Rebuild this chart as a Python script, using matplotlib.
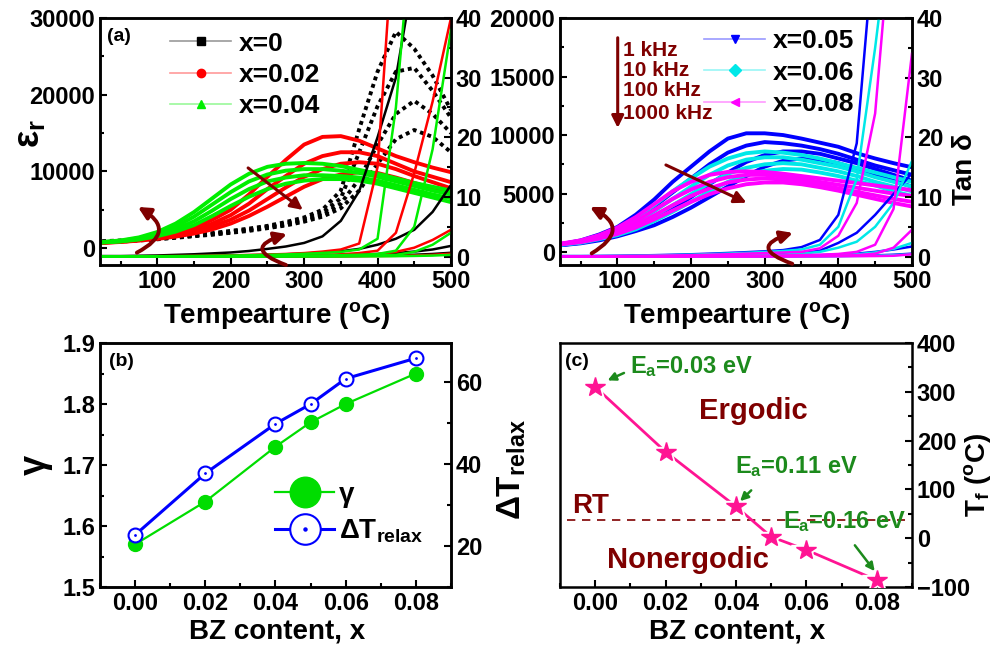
import matplotlib
matplotlib.use('Agg')
import matplotlib.pyplot as plt
from matplotlib.lines import Line2D
from matplotlib.legend_handler import HandlerTuple
from matplotlib.ticker import MultipleLocator

plt.rcParams['font.family'] = ['Liberation Sans', 'DejaVu Sans']
plt.rcParams['font.weight'] = 'bold'
plt.rcParams['mathtext.fontset'] = 'custom'
plt.rcParams['mathtext.rm'] = 'Liberation Sans:bold'
plt.rcParams['mathtext.it'] = 'Liberation Sans:bold'
plt.rcParams['mathtext.bf'] = 'Liberation Sans:bold'
plt.rcParams['axes.linewidth'] = 1.8

# temperature grid (degC)
T = [25, 50, 75, 100, 125, 150, 175, 200, 225, 250,
     275, 300, 325, 350, 375, 400, 425, 450, 475, 500]

# permittivity, rows = 1 kHz, 10 kHz, 100 kHz, 1000 kHz
eps_x000 = [
    [900, 1000, 1150, 1300, 1500, 1700, 1950, 2250, 2550, 2900, 3400, 4000, 5000, 7500, 15500, 23000, 28200, 26000, 22500, 18000],
    [850, 950, 1100, 1250, 1450, 1650, 1900, 2150, 2450, 2800, 3200, 3800, 4600, 6500, 12500, 18500, 23000, 23500, 20500, 17000],
    [800, 900, 1050, 1200, 1400, 1600, 1800, 2050, 2350, 2700, 3050, 3600, 4300, 5800, 9000, 13500, 17500, 19200, 17500, 15000],
    [750, 850, 1000, 1150, 1350, 1550, 1750, 2000, 2250, 2600, 2950, 3450, 4100, 5200, 7500, 11000, 14200, 15400, 14500, 12500],
]
eps_x002 = [
    [750, 900, 1150, 1500, 2000, 2700, 3700, 5000, 7000, 9300, 11500, 13500, 14500, 14600, 14000, 13000, 12000, 11200, 10500, 9900],
    [720, 860, 1080, 1400, 1800, 2400, 3200, 4300, 5800, 7700, 9400, 11000, 12000, 12500, 12500, 12000, 11000, 10000, 9300, 8600],
    [700, 830, 1030, 1300, 1650, 2150, 2850, 3700, 4900, 6400, 7900, 9300, 10300, 11000, 11200, 11000, 10300, 9400, 8600, 7800],
    [680, 800, 980, 1200, 1500, 1900, 2450, 3200, 4200, 5400, 6700, 8000, 9000, 9600, 9900, 9800, 9200, 8500, 7800, 7200],
]
eps_x004 = [
    [800, 1000, 1400, 2100, 3200, 4700, 6500, 8300, 9700, 10600, 11000, 11100, 11000, 10700, 10200, 9700, 9100, 8500, 8000, 7500],
    [780, 950, 1300, 1900, 2800, 4100, 5700, 7300, 8700, 9600, 10100, 10300, 10300, 10100, 9800, 9300, 8700, 8100, 7500, 7000],
    [760, 900, 1200, 1700, 2450, 3500, 4900, 6400, 7700, 8700, 9200, 9500, 9500, 9400, 9200, 8800, 8200, 7600, 7000, 6500],
    [740, 870, 1120, 1550, 2150, 3000, 4200, 5500, 6700, 7700, 8400, 8800, 9000, 9000, 8800, 8400, 7800, 7200, 6600, 6000],
]
eps_x005 = [
    [700, 1000, 1500, 2150, 3200, 4500, 6000, 7300, 8600, 9700, 10150, 10150, 10000, 9700, 9350, 9000, 8450, 8000, 7600, 7250],
    [680, 950, 1400, 1950, 2800, 3900, 5100, 6300, 7500, 8500, 9100, 9400, 9300, 9100, 8800, 8400, 7900, 7400, 7000, 6600],
    [620, 800, 1100, 1500, 2100, 2800, 3700, 4700, 5800, 6800, 7700, 8300, 8600, 8600, 8400, 8000, 7600, 7100, 6600, 6100],
    [600, 750, 1000, 1350, 1800, 2300, 3000, 3800, 4700, 5600, 6500, 7300, 7800, 8000, 7900, 7600, 7100, 6600, 6100, 5600],
]
eps_x006 = [
    [700, 950, 1400, 2000, 2900, 4000, 5200, 6300, 7300, 8000, 8450, 8600, 8500, 8300, 8000, 7600, 7200, 6800, 6400, 6000],
    [680, 900, 1300, 1800, 2550, 3500, 4550, 5600, 6600, 7400, 7900, 8100, 8100, 7900, 7600, 7300, 6900, 6400, 6000, 5600],
    [660, 850, 1200, 1600, 2250, 3050, 4000, 4950, 5900, 6700, 7200, 7500, 7600, 7500, 7200, 6900, 6500, 6000, 5600, 5200],
    [640, 800, 1100, 1450, 1950, 2650, 3450, 4300, 5200, 6000, 6600, 6950, 7100, 7050, 6800, 6500, 6100, 5700, 5200, 4800],
]
eps_x008 = [
    [750, 1000, 1450, 2100, 3000, 4100, 5200, 6000, 6600, 6850, 6900, 6850, 6700, 6500, 6300, 6100, 5900, 5700, 5500, 5300],
    [720, 950, 1350, 1900, 2650, 3600, 4550, 5350, 6000, 6400, 6600, 6600, 6450, 6250, 6000, 5750, 5500, 5250, 5000, 4800],
    [700, 900, 1250, 1700, 2350, 3150, 4000, 4800, 5450, 5950, 6200, 6300, 6200, 6000, 5750, 5450, 5150, 4850, 4550, 4300],
    [680, 850, 1150, 1550, 2100, 2800, 3550, 4300, 4950, 5450, 5800, 5950, 5950, 5800, 5550, 5250, 4900, 4550, 4200, 3900],
]

# loss tangent, rows = 1 kHz, 10 kHz, 100 kHz, 1000 kHz
tan_x000 = [
    [0.10, 0.10, 0.15, 0.20, 0.30, 0.40, 0.55, 0.70, 0.95, 1.30, 1.70, 2.30, 3.40, 6.0, 11.0, 20.0, 30.0, 48.0, 60, 60],
    [0.05, 0.05, 0.05, 0.05, 0.10, 0.10, 0.15, 0.20, 0.25, 0.30, 0.40, 0.50, 0.70, 0.90, 1.30, 2.00, 3.00, 4.50, 7.50, 12.0],
    [0.02, 0.02, 0.02, 0.02, 0.03, 0.04, 0.05, 0.06, 0.08, 0.10, 0.13, 0.16, 0.20, 0.26, 0.34, 0.45, 0.60, 0.85, 1.20, 1.80],
    [0.01, 0.01, 0.01, 0.01, 0.01, 0.02, 0.02, 0.03, 0.03, 0.04, 0.05, 0.06, 0.08, 0.10, 0.13, 0.17, 0.23, 0.32, 0.45, 0.65],
]
tan_x002 = [
    [0.05, 0.05, 0.06, 0.08, 0.10, 0.13, 0.17, 0.22, 0.28, 0.35, 0.45, 0.60, 0.85, 1.20, 2.20, 15.0, 60, 60, 60, 60],
    [0.03, 0.03, 0.03, 0.04, 0.05, 0.06, 0.07, 0.09, 0.11, 0.14, 0.18, 0.23, 0.30, 0.40, 0.60, 1.00, 4.00, 14.0, 26.0, 40.0],
    [0.02, 0.02, 0.02, 0.02, 0.03, 0.03, 0.04, 0.05, 0.06, 0.07, 0.09, 0.11, 0.14, 0.18, 0.25, 0.40, 0.80, 1.50, 2.80, 4.50],
    [0.01, 0.01, 0.01, 0.01, 0.01, 0.01, 0.02, 0.02, 0.02, 0.03, 0.03, 0.04, 0.05, 0.06, 0.08, 0.10, 0.14, 0.20, 0.30, 0.50],
]
tan_x004 = [
    [0.05, 0.05, 0.06, 0.07, 0.09, 0.11, 0.14, 0.18, 0.23, 0.30, 0.38, 0.48, 0.62, 0.80, 1.20, 3.00, 25.0, 60, 60, 60],
    [0.03, 0.03, 0.03, 0.04, 0.04, 0.05, 0.06, 0.07, 0.09, 0.11, 0.13, 0.16, 0.20, 0.25, 0.32, 0.45, 1.00, 5.00, 18.0, 38.0],
    [0.02, 0.02, 0.02, 0.02, 0.02, 0.03, 0.03, 0.04, 0.04, 0.05, 0.06, 0.08, 0.10, 0.12, 0.15, 0.20, 0.30, 0.80, 2.00, 4.00],
    [0.01, 0.01, 0.01, 0.01, 0.01, 0.01, 0.01, 0.02, 0.02, 0.02, 0.02, 0.03, 0.03, 0.04, 0.05, 0.06, 0.08, 0.12, 0.18, 0.30],
]
tan_x005 = [
    [0.10, 0.10, 0.12, 0.15, 0.20, 0.25, 0.32, 0.40, 0.50, 0.62, 0.75, 0.90, 1.10, 1.60, 2.80, 7.00, 19.0, 55.0, 60, 60],
    [0.05, 0.05, 0.06, 0.07, 0.08, 0.10, 0.12, 0.15, 0.18, 0.22, 0.28, 0.35, 0.45, 0.60, 1.00, 2.30, 4.00, 7.00, 10.5, 14.0],
    [0.03, 0.03, 0.03, 0.03, 0.04, 0.04, 0.05, 0.06, 0.07, 0.08, 0.10, 0.12, 0.15, 0.20, 0.26, 0.35, 0.50, 0.80, 1.20, 1.70],
    [0.01, 0.01, 0.01, 0.01, 0.01, 0.02, 0.02, 0.02, 0.03, 0.03, 0.04, 0.05, 0.06, 0.07, 0.09, 0.12, 0.16, 0.22, 0.32, 0.50],
]
tan_x006 = [
    [0.08, 0.08, 0.10, 0.12, 0.16, 0.20, 0.26, 0.33, 0.42, 0.52, 0.64, 0.78, 0.95, 1.20, 2.00, 5.00, 13.0, 35.0, 60, 60],
    [0.04, 0.04, 0.05, 0.06, 0.07, 0.08, 0.10, 0.12, 0.15, 0.18, 0.22, 0.28, 0.35, 0.50, 0.80, 1.50, 2.50, 5.00, 9.00, 16.0],
    [0.02, 0.02, 0.02, 0.03, 0.03, 0.04, 0.04, 0.05, 0.06, 0.07, 0.08, 0.10, 0.13, 0.16, 0.21, 0.28, 0.40, 0.70, 1.30, 2.30],
    [0.01, 0.01, 0.01, 0.01, 0.01, 0.01, 0.02, 0.02, 0.02, 0.03, 0.03, 0.04, 0.05, 0.06, 0.07, 0.09, 0.12, 0.17, 0.25, 0.40],
]
tan_x008 = [
    [0.06, 0.06, 0.08, 0.10, 0.13, 0.16, 0.20, 0.25, 0.32, 0.40, 0.50, 0.60, 0.70, 0.80, 1.40, 3.50, 9.00, 24.0, 60, 60],
    [0.03, 0.03, 0.03, 0.04, 0.05, 0.06, 0.07, 0.08, 0.10, 0.12, 0.14, 0.17, 0.20, 0.25, 0.32, 0.45, 0.80, 2.00, 8.00, 34.0],
    [0.02, 0.02, 0.02, 0.02, 0.02, 0.03, 0.03, 0.04, 0.04, 0.05, 0.06, 0.07, 0.08, 0.10, 0.13, 0.17, 0.25, 0.50, 1.50, 4.50],
    [0.01, 0.01, 0.01, 0.01, 0.01, 0.01, 0.01, 0.02, 0.02, 0.02, 0.02, 0.03, 0.03, 0.04, 0.05, 0.06, 0.08, 0.10, 0.15, 0.40],
]

# panel (b) and (c)
bz = [0.00, 0.02, 0.04, 0.05, 0.06, 0.08]
gamma = [1.57, 1.64, 1.73, 1.77, 1.80, 1.85]
dT_relax = [22.7, 37.7, 49.8, 54.6, 60.8, 65.8]
T_f = [310, 177, 65, 3, -24, -86]
RT = 37

freq_labels = ['1 kHz', '10 kHz', '100 kHz', '1000 kHz']
darkred = '#7f0000'
dgreen = '#1c8a1c'


def style(ax, left=True, right=False):
    ax.tick_params(which='both', direction='in', top=False, left=left, right=right,
                   width=1.5, labelsize=17)
    ax.tick_params(which='major', length=5)
    ax.tick_params(which='minor', length=3)


def temp_panel(rect, groups, ylim_eps, eps_major, names, markers, legend_anchor):
    ax = fig.add_axes(rect)
    ax2 = ax.twinx()
    for eps, tan, col, ls in groups:
        for row in eps:
            ax.plot(T, row, color=col, lw=2.8, ls=ls)
        for row in tan:
            ax2.plot(T, row, color=col, lw=1.8)
    ax.set_xlim(22, 500)
    ax.set_ylim(*ylim_eps)
    ax2.set_ylim(-1.4, 40)
    ax.xaxis.set_major_locator(MultipleLocator(100))
    ax.xaxis.set_minor_locator(MultipleLocator(50))
    ax.yaxis.set_major_locator(MultipleLocator(eps_major))
    ax.yaxis.set_minor_locator(MultipleLocator(eps_major / 2))
    ax2.yaxis.set_major_locator(MultipleLocator(10))
    ax2.yaxis.set_minor_locator(MultipleLocator(5))
    style(ax)
    style(ax2, left=False, right=True)
    handles = []
    for (eps, tan, col, ls), m in zip(groups, markers):
        rgb = matplotlib.colors.to_rgb(col)
        handles.append(Line2D([], [], color=rgb + (0.4,), lw=1.2, marker=m, ms=6,
                              mfc=col, mec=col))
    ax2.legend(handles, names, loc='upper left', bbox_to_anchor=legend_anchor,
               frameon=False, fontsize=19, handlelength=2.3, handletextpad=0.3,
               labelspacing=0.28, borderaxespad=0, borderpad=0)
    return ax, ax2


def curved(ax, tail, head, rad):
    ax.annotate('', xy=head, xytext=tail, xycoords='axes fraction',
                arrowprops=dict(arrowstyle='-|>', color=darkred, lw=2.8,
                                mutation_scale=18, shrinkA=0, shrinkB=0,
                                connectionstyle='arc3,rad=%s' % rad),
                zorder=10)


def straight(ax, tail, head):
    ax.annotate('', xy=head, xytext=tail, xycoords='axes fraction',
                arrowprops=dict(arrowstyle='-|>', color=darkred, lw=2.2,
                                mutation_scale=18, shrinkA=0, shrinkB=0))


fig = plt.figure(figsize=(9.92, 6.5), dpi=100)

# panel (a)
axa, axa2 = temp_panel([0.1008, 0.5923, 0.3538, 0.38],
                       [(eps_x000, tan_x000, 'black', (0, (1, 1))),
                        (eps_x002, tan_x002, '#ff0000', '-'),
                        (eps_x004, tan_x004, '#00ee00', '-')],
                       (-2200, 30000), 10000,
                       ['x=0', 'x=0.02', 'x=0.04'], ['s', 'o', '^'], (0.2, 0.945))
axa.text(0.02, 0.925, '(a)', transform=axa.transAxes, fontsize=14, va='center')
curved(axa2, (0.105, 0.05), (0.108, 0.235), 0.9)
curved(axa2, (0.53, 0.0), (0.533, 0.125), -1.5)
straight(axa2, (0.422, 0.393), (0.578, 0.223))

# panel (a')
axr, axr2 = temp_panel([0.5645, 0.5923, 0.3548, 0.38],
                       [(eps_x005, tan_x005, '#0000ff', '-'),
                        (eps_x006, tan_x006, '#00e8e8', '-'),
                        (eps_x008, tan_x008, '#ff00ff', '-')],
                       (-1100, 20000), 5000,
                       ['x=0.05', 'x=0.06', 'x=0.08'], ['v', 'D', '<'], (0.41, 0.955))
curved(axr2, (0.09, 0.047), (0.085, 0.235), 0.9)
curved(axr2, (0.66, 0.005), (0.662, 0.13), -1.5)
straight(axr2, (0.301, 0.405), (0.53, 0.252))
straight(axr2, (0.164, 0.92), (0.164, 0.555))
for lab, fy in zip(freq_labels, [0.87, 0.789, 0.706, 0.615]):
    axr.text(0.178, fy, lab, transform=axr.transAxes, color=darkred, fontsize=15,
             va='center', ha='left')

# panel (b)
axb = fig.add_axes([0.1008, 0.0969, 0.3538, 0.3754])
axb2 = axb.twinx()
lg, = axb.plot(bz, gamma, color='#00dd00', lw=1.6, marker='o', ms=10, zorder=3)
lt, = axb2.plot(bz, dT_relax, color='#0000ff', lw=2.2, marker='o', ms=10,
                mfc='white', mec='#0000ff', mew=1.5)
ld, = axb2.plot(bz, dT_relax, ls='none', marker='.', ms=2, color='#0000ff')
axb.set_xlim(-0.01, 0.09)
axb.set_ylim(1.5, 1.9)
axb2.set_ylim(10, 69.5)
axb.xaxis.set_major_locator(MultipleLocator(0.02))
axb.xaxis.set_minor_locator(MultipleLocator(0.01))
axb.yaxis.set_major_locator(MultipleLocator(0.1))
axb.yaxis.set_minor_locator(MultipleLocator(0.05))
axb2.yaxis.set_major_locator(MultipleLocator(20))
axb2.yaxis.set_minor_locator(MultipleLocator(10))
axb.xaxis.set_major_formatter(matplotlib.ticker.FormatStrFormatter('%.2f'))
axb.yaxis.set_major_formatter(matplotlib.ticker.FormatStrFormatter('%.1f'))
style(axb)
style(axb2, left=False, right=True)
axb.text(0.025, 0.926, '(b)', transform=axb.transAxes, fontsize=14, va='center')
axb2.legend([lg, (lt, ld)], ['γ', 'ΔT$_\\mathregular{relax}$'],
            handler_map={tuple: HandlerTuple(ndivide=1)},
            loc='center left', bbox_to_anchor=(0.5, 0.3), frameon=False,
            fontsize=20, markerscale=2.2, handlelength=2.1, handletextpad=0.2,
            labelspacing=0.35, borderaxespad=0, borderpad=0)

# panel (c)
axc = fig.add_axes([0.5645, 0.0969, 0.3548, 0.3754])
axc.axhline(RT, xmin=0.02, xmax=0.98, color=darkred, lw=1.2, ls=(0, (5, 4)))
axc.plot(bz, T_f, color='#ff1493', lw=2, zorder=2)
axc.plot(bz, T_f, ls='none', marker='*', ms=22, color='white', zorder=3)
axc.plot(bz, T_f, ls='none', marker='*', ms=15, color='#ff1493', zorder=4)
axc.set_xlim(-0.01, 0.09)
axc.set_ylim(-100, 400)
axc.yaxis.tick_right()
axc.xaxis.set_major_locator(MultipleLocator(0.02))
axc.xaxis.set_minor_locator(MultipleLocator(0.01))
axc.yaxis.set_major_locator(MultipleLocator(100))
axc.yaxis.set_minor_locator(MultipleLocator(50))
axc.xaxis.set_major_formatter(matplotlib.ticker.FormatStrFormatter('%.2f'))
style(axc, left=False, right=True)
axc.text(0.014, 0.926, '(c)', transform=axc.transAxes, fontsize=14, va='center')
axc.text(-0.0066, RT + 2, 'RT', color=darkred, fontsize=20, va='bottom', ha='left')
axc.text(0.0449, 261, 'Ergodic', color=darkred, fontsize=21, ha='center', va='center')
axc.text(0.0263, -45, 'Nonergodic', color=darkred, fontsize=21, ha='center', va='center')
for lab, xy in zip(['0.03', '0.11', '0.16'], [(0.0099, 339), (0.0397, 134), (0.0533, 21)]):
    axc.text(xy[0], xy[1], 'E$_\\mathregular{a}$=' + lab + ' eV', color=dgreen,
             fontsize=17, va='baseline', ha='left')
for tail, head in [((0.0089, 341), (0.0028, 321)), ((0.0449, 102), (0.0406, 72)),
                   ((0.0733, -10), (0.0799, -72))]:
    axc.annotate('', xy=head, xytext=tail,
                 arrowprops=dict(arrowstyle='-|>', color=dgreen, lw=1.8, mutation_scale=12))

# axis labels
fig.text(0.030, 0.795, 'ε$_\\mathregular{r}$', rotation=90, fontsize=26, ha='center', va='center')
fig.text(0.973, 0.74, 'Tan δ', rotation=90, fontsize=20, ha='center', va='center')
fig.text(0.036, 0.285, 'γ', rotation=90, fontsize=26, ha='center', va='center')
fig.text(0.516, 0.277, 'ΔT$_\\mathregular{relax}$', rotation=90, fontsize=24, ha='center', va='center')
fig.text(0.985, 0.269, 'T$_\\mathregular{f}$ ($^\\mathregular{o}$C)', rotation=90, fontsize=20,
         ha='center', va='center')
for fx in [0.279, 0.743]:
    fig.text(fx, 0.514, 'Tempearture ($^\\mathregular{o}$C)', fontsize=20, ha='center', va='center')
    fig.text(fx, 0.028, 'BZ content, x', fontsize=20, ha='center', va='center')

fig.savefig('out.png', dpi=100)
